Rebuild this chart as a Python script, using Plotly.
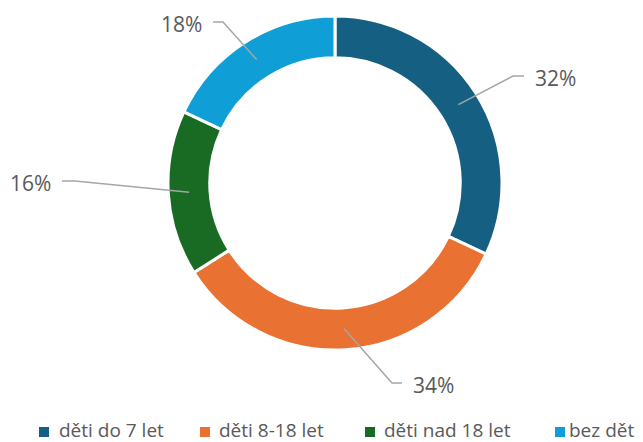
import math
import plotly.graph_objects as go

# ---- data ----
labels = ["děti do 7 let", "děti 8-18 let", "děti nad 18 let", "bez dětí"]
values = [32, 34, 16, 18]
label_texts = ["32%", "34%", "16%", "18%"]

# ---- style / layout ----
colors = ["#156082", "#E97132", "#196B24", "#0F9ED5"]
W, H = 643, 442
OFF = 8                              # page body margin of the browser
CX, CY, R = 335, 183, 167            # donut centre and outer radius (screen px)
HOLE = 0.75
FONT = "Open Sans"
TEXT_COLOR = "#595959"
LINE_COLOR = "#A6A6A6"

# label placement (screen px): elbow point, end of horizontal tick, side of text
label_elbows = [(513, 76), (392, 383), (75, 181), (223, 22)]
label_ends = [(524, 76), (402, 383), (62, 181), (213, 22)]
label_side = ["left", "left", "right", "right"]
label_gap = 9

# legend placement (screen px): swatch left edges, text left edges, row centre
legend_swatch_x = [39, 200, 365, 555]
legend_text_x = [57, 217, 382, 567]
legend_y = 430
swatch = 10


def px(x):
    return (x - OFF) / W


def py(y):
    return 1 - (y - OFF) / H


fig = go.Figure(
    go.Pie(
        labels=labels,
        values=values,
        hole=HOLE,
        sort=False,
        direction="clockwise",
        rotation=0,
        textinfo="none",
        hoverinfo="label+percent",
        marker=dict(colors=colors, line=dict(color="white", width=3)),
        domain=dict(x=[px(CX - R), px(CX + R)], y=[py(CY + R), py(CY - R)]),
        showlegend=False,
    )
)

# leader lines + labels, starting at the middle of each ring segment
total = sum(values)
cum = 0
r_mid = R * (1 + HOLE) / 2
shapes, annotations = [], []
for i, v in enumerate(values):
    mid = (cum + v / 2) / total * 2 * math.pi
    cum += v
    sx = CX + r_mid * math.sin(mid)
    sy = CY - r_mid * math.cos(mid)
    ex, ey = label_elbows[i]
    tx, ty = label_ends[i]
    shapes.append(dict(
        type="path", xref="paper", yref="paper",
        path=f"M {px(sx)},{py(sy)} L {px(ex)},{py(ey)} L {px(tx)},{py(ty)}",
        line=dict(color=LINE_COLOR, width=1.5),
    ))
    if label_side[i] == "left":
        ax, anchor = tx + label_gap, "left"
    else:
        ax, anchor = tx - label_gap, "right"
    annotations.append(dict(
        text=label_texts[i], xref="paper", yref="paper",
        x=px(ax), y=py(ty + 2), xanchor=anchor, yanchor="middle",
        showarrow=False, font=dict(family=FONT, size=21, color=TEXT_COLOR),
    ))

# legend row (swatch + category name)
for i, name in enumerate(labels):
    x0 = legend_swatch_x[i]
    shapes.append(dict(
        type="rect", xref="paper", yref="paper",
        x0=px(x0), x1=px(x0 + swatch),
        y0=py(legend_y - swatch / 2 + 2), y1=py(legend_y + swatch / 2 + 2),
        fillcolor=colors[i], line=dict(width=0),
    ))
    annotations.append(dict(
        text=name, xref="paper", yref="paper",
        x=px(legend_text_x[i]), y=py(legend_y), xanchor="left", yanchor="middle",
        showarrow=False, font=dict(family=FONT, size=19, color=TEXT_COLOR),
    ))

fig.update_layout(
    width=W, height=H,
    margin=dict(l=0, r=0, t=0, b=0, autoexpand=False),
    paper_bgcolor="white",
    plot_bgcolor="white",
    shapes=shapes,
    annotations=annotations,
    showlegend=False,
)

fig.write_html("out.html")
